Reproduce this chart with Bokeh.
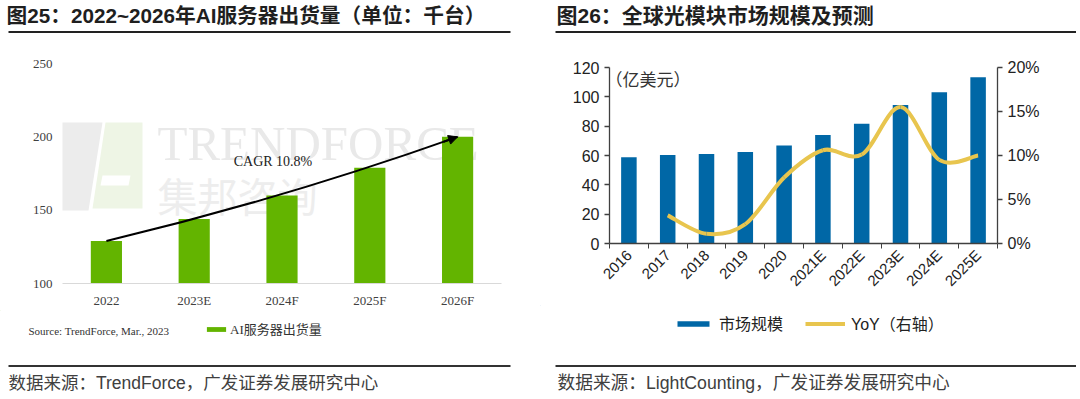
import math
from bokeh.plotting import figure
from bokeh.layouts import row, column
from bokeh.models import (Range1d, LinearAxis, FixedTicker, Label, Legend, LegendItem,
                          Arrow, NormalHead, PrintfTickFormatter, PolyAnnotation)
from bokeh.embed import file_html
from bokeh.resources import INLINE

# ---------------- data ----------------
title_left = "图25：2022~2026年AI服务器出货量（单位：千台）"
title_right = "图26：全球光模块市场规模及预测"
source_left = "数据来源：TrendForce，广发证券发展研究中心"
source_right = "数据来源：LightCounting，广发证券发展研究中心"
note_left = "Source: TrendForce, Mar., 2023"

years_left = ["2022", "2023E", "2024F", "2025F", "2026F"]
shipments = [129, 144, 160, 179, 200]
series_left = "AI服务器出货量"
cagr_text = "CAGR 10.8%"
ship_ticks = [100, 150, 200, 250]

years_right = ["2016", "2017", "2018", "2019", "2020", "2021E", "2022E", "2023E", "2024E", "2025E"]
market = [58.8, 60.4, 61.0, 62.4, 66.8, 74.0, 81.7, 94.4, 103.2, 113.4]
yoy = [None, 3.2, 1.1, 2.2, 7.5, 10.6, 10.1, 15.5, 9.5, 10.0]
series_right = ["市场规模", "YoY（右轴）"]
unit_right = "（亿美元）"
market_ticks = [0, 20, 40, 60, 80, 100, 120]
yoy_ticks = [0, 5, 10, 15, 20]

# ---------------- styles ----------------
WL, WR = 540, 536
HEAD_H = 42
TITLE_FONT = "Liberation Sans, Noto Sans CJK SC"
CJK_FONT = "Noto Sans CJK SC"
SERIF = "Liberation Serif"
SERIF_CJK = "Liberation Serif, Noto Sans CJK SC"
SANS = "Liberation Sans"
GREEN = "#63b400"
BLUE = "#0067a6"
GOLD = "#e8c54e"
DARK = "#404040"
OFF = -1000  # legend-only renderers sit outside the visible footer range


def blank(w, h):
    p = figure(width=w, height=h, x_range=Range1d(0, w), y_range=Range1d(h, 0),
               x_axis_type=None, y_axis_type=None, output_backend="svg",
               toolbar_location=None, min_border=0, frame_align=False)
    p.min_border_left = p.min_border_right = p.min_border_top = p.min_border_bottom = 0
    p.outline_line_color = None
    p.grid.visible = False
    return p


def header(w, text, x0, rx0, rx1, size):
    p = blank(w, HEAD_H)
    p.add_layout(Label(x=x0, y=15, text=text, text_font=TITLE_FONT, text_font_style="bold",
                       text_font_size=size, text_color="#1f1f1f", text_baseline="middle"))
    p.segment(x0=[rx0], y0=[31.5], x1=[rx1], y1=[31.5], line_width=2, line_color="#222222")
    return p


def footer(w, h, text, x0, rx0, rx1, rule_y, size):
    p = blank(w, h)
    p.segment(x0=[rx0], y0=[rule_y], x1=[rx1], y1=[rule_y], line_width=2, line_color="#333333")
    p.add_layout(Label(x=x0, y=rule_y + 16.5, text=text, text_font=TITLE_FONT,
                       text_font_size=size, text_color=DARK, text_baseline="middle"))
    return p


# ---------------- left chart ----------------
xL = list(range(len(years_left)))
pL = figure(width=WL, height=268, x_range=Range1d(-0.5, len(xL) - 0.5),
            y_range=Range1d(ship_ticks[0], ship_ticks[-1]), output_backend="svg",
            toolbar_location=None, min_border_left=62, min_border_right=39,
            min_border_top=21, min_border_bottom=27, frame_align=False)
pL.outline_line_color = None
pL.grid.visible = False

# watermark (logo + text), beneath the bars
for xs, ys, col in [([-10, 40, 26, -18], [161, 161, 73, 73], "#ececec"),
                    ([43, 80, 80, 30], [161, 161, 75, 75], "#eef5e5"),
                    ([40, 68, 66, 38], [108, 108, 98, 98], "#ffffff")]:
    pL.add_layout(PolyAnnotation(xs=xs, ys=ys, xs_units="screen", ys_units="screen",
                                 fill_color=col, fill_alpha=1, line_color=None, level="underlay"))
pL.add_layout(Label(x=95, y=140, x_units="screen", y_units="screen", text="TRENDFORCE",
                    text_font=SERIF, text_font_size="49px", text_color="#e9e9e9",
                    text_baseline="middle", level="underlay"))
pL.add_layout(Label(x=95, y=89, x_units="screen", y_units="screen", text="集邦咨询",
                    text_font=CJK_FONT, text_font_size="40px", text_color="#ededed",
                    text_baseline="middle", level="underlay"))

barsL = pL.vbar(x=xL, top=shipments, bottom=ship_ticks[0], width=0.355,
                fill_color=GREEN, line_color=None)

# CAGR curve + arrow head
cx, cy = (xL[0] + xL[-1]) / 2, 157.5
pL.quadratic(x0=[xL[0]], y0=[shipments[0]], x1=[xL[-1]], y1=[shipments[-1]],
             cx=[cx], cy=[cy], line_color="black", line_width=2)
t = 0.96
bx = (1 - t) ** 2 * xL[0] + 2 * (1 - t) * t * cx + t ** 2 * xL[-1]
by = (1 - t) ** 2 * shipments[0] + 2 * (1 - t) * t * cy + t ** 2 * shipments[-1]
pL.add_layout(Arrow(end=NormalHead(size=9, fill_color="black", line_color="black"),
                    x_start=bx, y_start=by, x_end=xL[-1], y_end=shipments[-1],
                    line_color="black", line_width=2))
pL.add_layout(Label(x=1.45, y=183, text=cagr_text, text_font=SERIF, text_font_size="14px",
                    text_color="#222222", text_baseline="middle"))

pL.xaxis.ticker = FixedTicker(ticks=xL)
pL.xaxis.major_label_overrides = {i: y for i, y in zip(xL, years_left)}
pL.xaxis.axis_line_color = "#d9d9d9"
pL.yaxis.ticker = FixedTicker(ticks=ship_ticks)
pL.yaxis.axis_line_color = None
pL.xaxis.major_label_standoff = 9
pL.yaxis.major_label_standoff = 10
for ax in (pL.xaxis[0], pL.yaxis[0]):
    ax.major_tick_line_color = None
    ax.minor_tick_line_color = None
    ax.major_tick_out = 0
    ax.major_tick_in = 0
    ax.minor_tick_out = 0
    ax.major_label_text_font = SERIF
    ax.major_label_text_font_size = "13px"
    ax.major_label_text_color = DARK

# footer with legend + note
fL = footer(WL, 86, source_left, 8, 8, 510, 55.5, "17.5px")
legL_r = fL.vbar(x=[OFF], top=[OFF], bottom=[OFF], width=1, fill_color=GREEN, line_color=None)
fL.add_layout(Legend(items=[LegendItem(label=series_left, renderers=[legL_r])],
                     location=(204, 58), orientation="horizontal", glyph_width=24,
                     glyph_height=6, label_height=14, label_standoff=2, padding=0, margin=0,
                     border_line_color=None, background_fill_alpha=0,
                     label_text_font=SERIF_CJK, label_text_font_size="13px",
                     label_text_color="#333333"))
fL.add_layout(Label(x=28, y=20, text=note_left, text_font=SERIF, text_font_size="11px",
                    text_color="#333333", text_baseline="middle"))

# ---------------- right chart ----------------
xR = list(range(len(years_right)))
pR = figure(width=WR, height=263, x_range=Range1d(-0.5, len(xR) - 0.5),
            y_range=Range1d(market_ticks[0], market_ticks[-1]), output_backend="svg",
            toolbar_location=None, min_border_left=69, min_border_right=79,
            min_border_top=25, min_border_bottom=62, frame_align=False)
pR.outline_line_color = None
pR.grid.visible = False
pR.extra_y_ranges = {"pct": Range1d(yoy_ticks[0], yoy_ticks[-1])}
pR.add_layout(LinearAxis(y_range_name="pct"), "right")

barsR = pR.vbar(x=xR, top=market, width=0.4, fill_color=BLUE, line_color=None)

# smooth YoY line (Catmull-Rom segments through the read points)
pts = [(x, v) for x, v in zip(xR, yoy) if v is not None]
bx0, by0, bx1, by1, c0x, c0y, c1x, c1y = ([] for _ in range(8))
for i in range(len(pts) - 1):
    p0 = pts[i - 1] if i > 0 else pts[i]
    p1, p2 = pts[i], pts[i + 1]
    p3 = pts[i + 2] if i + 2 < len(pts) else pts[i + 1]
    bx0.append(p1[0]); by0.append(p1[1]); bx1.append(p2[0]); by1.append(p2[1])
    c0x.append(p1[0] + (p2[0] - p0[0]) / 6); c0y.append(p1[1] + (p2[1] - p0[1]) / 6)
    c1x.append(p2[0] - (p3[0] - p1[0]) / 6); c1y.append(p2[1] - (p3[1] - p1[1]) / 6)
yoyR = pR.bezier(x0=bx0, y0=by0, x1=bx1, y1=by1, cx0=c0x, cy0=c0y, cx1=c1x, cy1=c1y,
                 line_color=GOLD, line_width=4, y_range_name="pct")

pR.add_layout(Label(x=-4, y=165, x_units="screen", y_units="screen", text=unit_right,
                    text_font=CJK_FONT, text_font_size="17px", text_color="#333333",
                    text_baseline="middle"))

pR.xaxis.ticker = FixedTicker(ticks=xR, minor_ticks=[x - 0.5 for x in xR] + [xR[-1] + 0.5])
pR.xaxis.major_label_overrides = {i: y for i, y in zip(xR, years_right)}
pR.xaxis.major_label_orientation = math.pi / 4
pR.xaxis.major_tick_out = 0
pR.xaxis.major_tick_in = 0
pR.xaxis.minor_tick_out = 5
pR.xaxis.minor_tick_in = 0
pR.xaxis.minor_tick_line_color = DARK
pR.xaxis.major_label_standoff = 4
pR.yaxis[0].ticker = FixedTicker(ticks=market_ticks)
pR.yaxis[1].ticker = FixedTicker(ticks=yoy_ticks)
pR.yaxis[1].formatter = PrintfTickFormatter(format="%d%%")
for ax in pR.yaxis:
    ax.major_tick_out = 5
    ax.major_tick_in = 0
    ax.minor_tick_line_color = None
    ax.major_label_standoff = 5
for ax in list(pR.xaxis) + list(pR.yaxis):
    ax.axis_line_color = DARK
    ax.axis_line_width = 1.3
    ax.major_tick_line_color = DARK
    ax.major_tick_line_width = 1.3
    ax.major_label_text_font = SANS
    ax.major_label_text_font_size = "16px"
    ax.major_label_text_color = "#222222"
pR.xaxis.major_label_text_font_size = "15px"

fR = footer(WR, 91, source_right, 17, 15, WR, 60.5, "17.7px")
legR_bar = fR.vbar(x=[OFF], top=[OFF], bottom=[OFF], width=1, fill_color=BLUE, line_color=None)
legR_line = fR.line(x=[OFF, OFF], y=[OFF, OFF], line_color=GOLD, line_width=4)
fR.add_layout(Legend(items=[LegendItem(label=series_right[0], renderers=[legR_bar]),
                            LegendItem(label=series_right[1], renderers=[legR_line])],
                     location=(133, 61), orientation="horizontal", glyph_width=40,
                     glyph_height=7, label_height=16, label_standoff=6, spacing=22,
                     padding=0, margin=0, border_line_color=None, background_fill_alpha=0,
                     label_text_font=TITLE_FONT, label_text_font_size="16px",
                     label_text_color="#222222"))

# ---------------- layout ----------------
left = column(header(WL, title_left, 6, 8, 510, "20.7px"), pL, fL, spacing=0)
right = column(header(WR, title_right, 16, 15, WR, "21px"), pR, fR, spacing=0)
layout = row(left, right, spacing=0)

open("out.html", "w").write(file_html(layout, INLINE))
